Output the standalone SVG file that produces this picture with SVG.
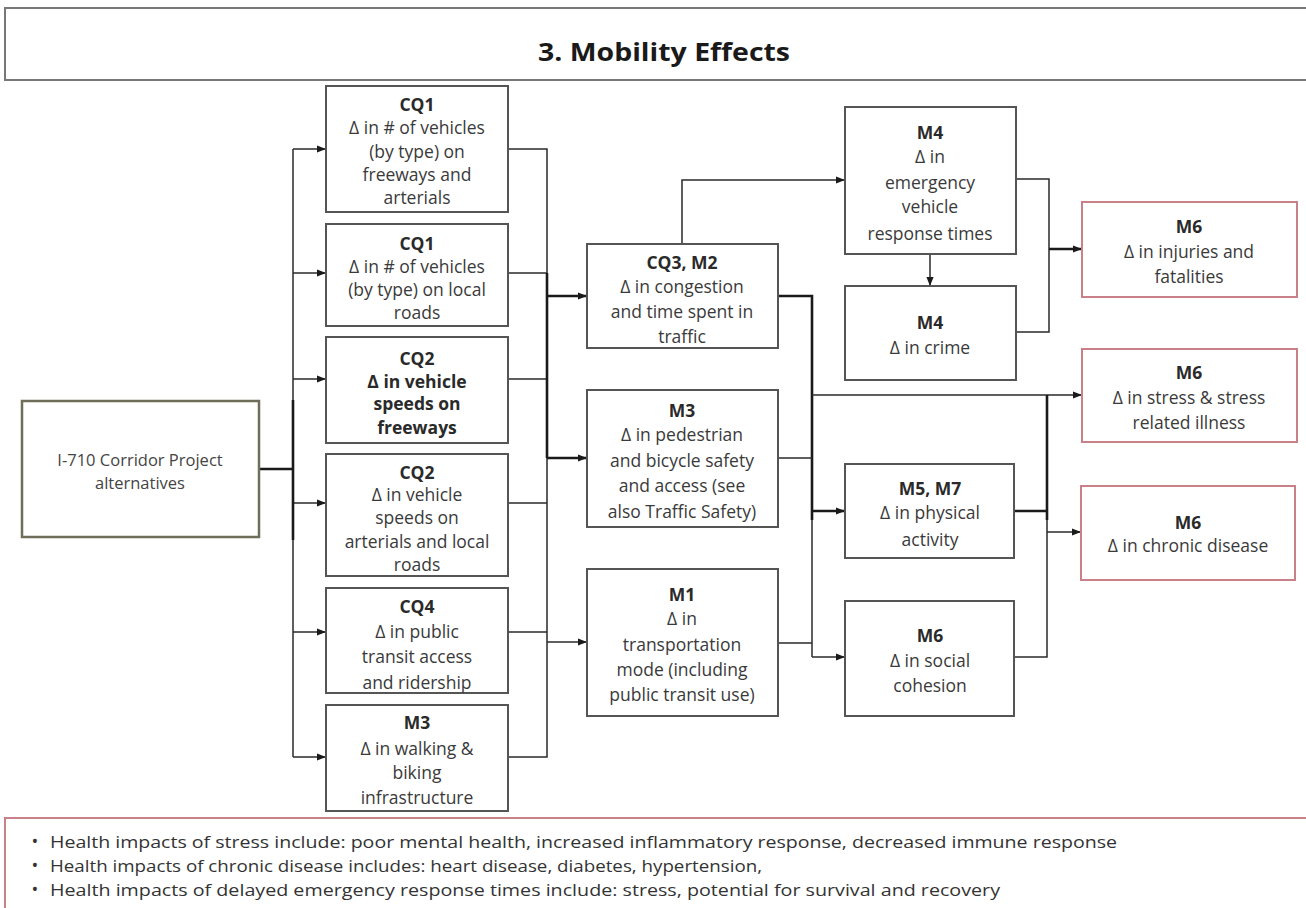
<svg xmlns="http://www.w3.org/2000/svg" width="1306" height="908" viewBox="0 0 1306 908">
  <style>
    .bg { fill: #ffffff; }
    .box { fill: #ffffff; stroke: #555555; stroke-width: 2; }
    .out { fill: #ffffff; stroke: #c98088; stroke-width: 2; }
    .src { fill: #ffffff; stroke: #6e6e5a; stroke-width: 2.5; }
    .frame { fill: #ffffff; stroke: #777777; stroke-width: 2; }
    .note { fill: #ffffff; stroke: #c98088; stroke-width: 2; }
    text { font-family: "Open Sans", "Liberation Sans", Arial, sans-serif; font-size: 17.5px; fill: #3a3a3a; text-anchor: middle; }
    .h { font-weight: bold; fill: #2a2a2a; }
    .title { font-size: 25px; font-weight: bold; fill: #1a1a1a; }
    .src-t { font-size: 16.5px; fill: #444444; }
    .fn { font-size: 16px; text-anchor: start; fill: #333333; }
    .bul { font-size: 18px; text-anchor: middle; fill: #333333; }
    .ln { fill: none; stroke: #2a2a2a; stroke-width: 1.5; }
    .lnb { fill: none; stroke: #1a1a1a; stroke-width: 2.6; }
  </style>
  <defs>
    <marker id="arr" viewBox="0 0 10 10" refX="10" refY="5" markerWidth="9" markerHeight="9" markerUnits="userSpaceOnUse" orient="auto">
      <path d="M0,1 L10,5 L0,9 z" fill="#1a1a1a"/>
    </marker>
  </defs>

  <rect class="bg" x="0" y="0" width="1306" height="908"/>

  <!-- heading -->
  <g id="title">
    <rect class="frame" x="5" y="8" width="1310" height="72"/>
    <text class="title" x="664" y="61" textLength="252" lengthAdjust="spacingAndGlyphs">3. Mobility Effects</text>
  </g>

  <!-- connectors -->
  <g id="connectors">
    <!-- project to first column -->
    <path class="lnb" d="M259,469 H293"/>
    <path class="ln" d="M293,149 V757"/>
    <path class="ln" d="M293,149 H326" marker-end="url(#arr)"/>
    <path class="ln" d="M293,273 H326" marker-end="url(#arr)"/>
    <path class="ln" d="M293,379 H326" marker-end="url(#arr)"/>
    <path class="ln" d="M293,503 H326" marker-end="url(#arr)"/>
    <path class="ln" d="M293,632 H326" marker-end="url(#arr)"/>
    <path class="ln" d="M293,757 H326" marker-end="url(#arr)"/>
    <path class="lnb" d="M293,400 V540"/>

    <!-- first column to second column -->
    <path class="ln" d="M508,149 H547 V757 H508"/>
    <path class="ln" d="M508,273 H547"/>
    <path class="ln" d="M508,379 H547"/>
    <path class="ln" d="M508,503 H547"/>
    <path class="ln" d="M508,632 H547"/>
    <path class="lnb" d="M547,273 V458"/>
    <path class="lnb" d="M547,296 H587" marker-end="url(#arr)"/>
    <path class="lnb" d="M547,458 H587" marker-end="url(#arr)"/>
    <path class="ln" d="M547,642 H587" marker-end="url(#arr)"/>

    <!-- congestion to emergency response -->
    <path class="ln" d="M682,244 V180 H845" marker-end="url(#arr)"/>

    <!-- second column to third column -->
    <path class="lnb" d="M778,296 H812 V520"/>
    <path class="ln" d="M812,520 V657"/>
    <path class="ln" d="M778,458 H812"/>
    <path class="ln" d="M778,643 H812"/>
    <path class="ln" d="M812,395 H1082" marker-end="url(#arr)"/>
    <path class="lnb" d="M812,511 H845" marker-end="url(#arr)"/>
    <path class="ln" d="M812,657 H845" marker-end="url(#arr)"/>

    <!-- emergency response to crime -->
    <path class="ln" d="M930,254 V286" marker-end="url(#arr)"/>

    <!-- third column to outcomes -->
    <path class="ln" d="M1016,179 H1049 V332 H1016"/>
    <path class="lnb" d="M1049,249 H1082" marker-end="url(#arr)"/>
    <path class="lnb" d="M1047,395 V520"/>
    <path class="ln" d="M1047,520 V657 H1014"/>
    <path class="lnb" d="M1014,511 H1047"/>
    <path class="ln" d="M1047,532 H1081" marker-end="url(#arr)"/>
  </g>

  <!-- source -->
  <g id="n-project">
    <rect class="src" x="22" y="401" width="237" height="136"/>
    <text class="src-t" x="140" y="466">I-710 Corridor Project</text>
    <text class="src-t" x="140" y="489">alternatives</text>
  </g>

  <!-- first column -->
  <g id="n-cq1-freeways">
    <rect class="box" x="326" y="86" width="182" height="126"/>
    <text class="h" x="417" y="111">CQ1</text>
    <text x="417" y="134">Δ in # of vehicles</text>
    <text x="417" y="158">(by type) on</text>
    <text x="417" y="181">freeways and</text>
    <text x="417" y="204">arterials</text>
  </g>
  <g id="n-cq1-local">
    <rect class="box" x="326" y="224" width="182" height="102"/>
    <text class="h" x="417" y="250">CQ1</text>
    <text x="417" y="273">Δ in # of vehicles</text>
    <text x="417" y="296">(by type) on local</text>
    <text x="417" y="319">roads</text>
  </g>
  <g id="n-cq2-freeways">
    <rect class="box" x="326" y="337" width="182" height="106"/>
    <text class="h" x="417" y="365">CQ2</text>
    <text class="h" x="417" y="388">Δ in vehicle</text>
    <text class="h" x="417" y="410">speeds on</text>
    <text class="h" x="417" y="434">freeways</text>
  </g>
  <g id="n-cq2-local">
    <rect class="box" x="326" y="454" width="182" height="122"/>
    <text class="h" x="417" y="479">CQ2</text>
    <text x="417" y="501">Δ in vehicle</text>
    <text x="417" y="524">speeds on</text>
    <text x="417" y="548">arterials and local</text>
    <text x="417" y="571">roads</text>
  </g>
  <g id="n-cq4">
    <rect class="box" x="326" y="588" width="182" height="105"/>
    <text class="h" x="417" y="613">CQ4</text>
    <text x="417" y="638">Δ in public</text>
    <text x="417" y="663">transit access</text>
    <text x="417" y="689">and ridership</text>
  </g>
  <g id="n-m3-walking">
    <rect class="box" x="326" y="705" width="182" height="106"/>
    <text class="h" x="417" y="729">M3</text>
    <text x="417" y="755">Δ in walking &amp;</text>
    <text x="417" y="779">biking</text>
    <text x="417" y="804">infrastructure</text>
  </g>

  <!-- second column -->
  <g id="n-cq3-m2">
    <rect class="box" x="587" y="244" width="191" height="104"/>
    <text class="h" x="682" y="269">CQ3, M2</text>
    <text x="682" y="293">Δ in congestion</text>
    <text x="682" y="318">and time spent in</text>
    <text x="682" y="343">traffic</text>
  </g>
  <g id="n-m3-pedestrian">
    <rect class="box" x="587" y="390" width="191" height="137"/>
    <text class="h" x="682" y="417">M3</text>
    <text x="682" y="441">Δ in pedestrian</text>
    <text x="682" y="467">and bicycle safety</text>
    <text x="682" y="492">and access (see</text>
    <text x="682" y="518">also Traffic Safety)</text>
  </g>
  <g id="n-m1">
    <rect class="box" x="587" y="569" width="191" height="147"/>
    <text class="h" x="682" y="601">M1</text>
    <text x="682" y="625">Δ in</text>
    <text x="682" y="651">transportation</text>
    <text x="682" y="676">mode (including</text>
    <text x="682" y="701">public transit use)</text>
  </g>

  <!-- third column -->
  <g id="n-m4-response">
    <rect class="box" x="845" y="107" width="171" height="147"/>
    <text class="h" x="930" y="139">M4</text>
    <text x="930" y="163">Δ in</text>
    <text x="930" y="189">emergency</text>
    <text x="930" y="213">vehicle</text>
    <text x="930" y="240">response times</text>
  </g>
  <g id="n-m4-crime">
    <rect class="box" x="845" y="286" width="171" height="94"/>
    <text class="h" x="930" y="329">M4</text>
    <text x="930" y="354">Δ in crime</text>
  </g>
  <g id="n-m5-m7">
    <rect class="box" x="845" y="464" width="169" height="94"/>
    <text class="h" x="930" y="495">M5, M7</text>
    <text x="930" y="519">Δ in physical</text>
    <text x="930" y="546">activity</text>
  </g>
  <g id="n-m6-social">
    <rect class="box" x="845" y="601" width="169" height="115"/>
    <text class="h" x="930" y="642">M6</text>
    <text x="930" y="667">Δ in social</text>
    <text x="930" y="692">cohesion</text>
  </g>

  <!-- outcomes -->
  <g id="n-m6-injuries">
    <rect class="out" x="1082" y="202" width="215" height="95"/>
    <text class="h" x="1189" y="233">M6</text>
    <text x="1189" y="258">Δ in injuries and</text>
    <text x="1189" y="283">fatalities</text>
  </g>
  <g id="n-m6-stress">
    <rect class="out" x="1082" y="349" width="215" height="93"/>
    <text class="h" x="1189" y="379">M6</text>
    <text x="1189" y="404">Δ in stress &amp; stress</text>
    <text x="1189" y="429">related illness</text>
  </g>
  <g id="n-m6-chronic">
    <rect class="out" x="1081" y="486" width="214" height="94"/>
    <text class="h" x="1188" y="529">M6</text>
    <text x="1188" y="552">Δ in chronic disease</text>
  </g>

  <!-- notes -->
  <g id="notes">
    <rect class="note" x="5" y="818" width="1310" height="100"/>
    <text class="bul" x="35" y="848">•</text>
    <text class="fn" x="50" y="848" textLength="1067" lengthAdjust="spacingAndGlyphs">Health impacts of stress include: poor mental health, increased inflammatory response, decreased immune response</text>
    <text class="bul" x="35" y="872">•</text>
    <text class="fn" x="50" y="872" textLength="712" lengthAdjust="spacingAndGlyphs">Health impacts of chronic disease includes: heart disease, diabetes, hypertension,</text>
    <text class="bul" x="35" y="896">•</text>
    <text class="fn" x="50" y="896" textLength="950" lengthAdjust="spacingAndGlyphs">Health impacts of delayed emergency response times include: stress, potential for survival and recovery</text>
  </g>
</svg>
